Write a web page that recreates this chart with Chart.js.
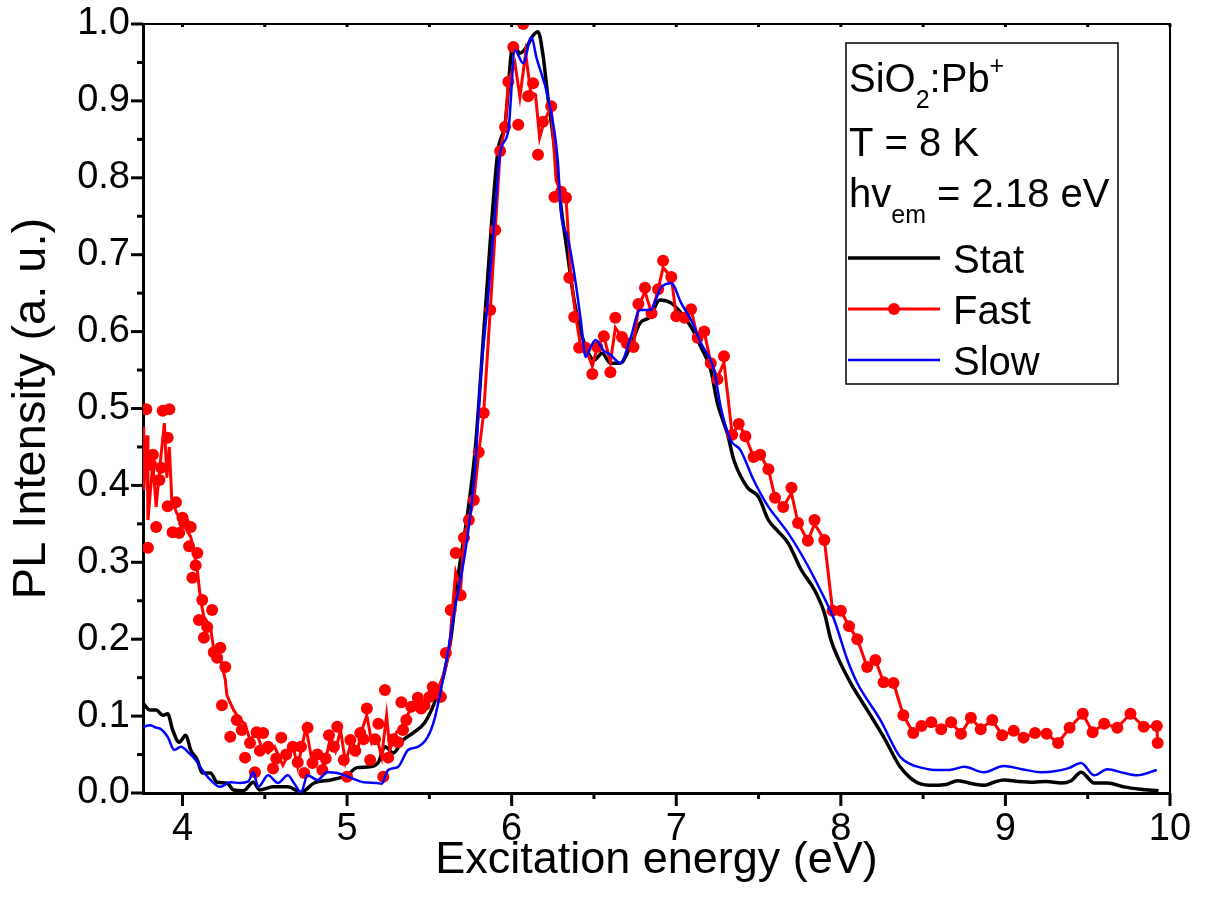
<!DOCTYPE html>
<html>
<head>
<meta charset="utf-8">
<script src="https://cdn.jsdelivr.net/npm/chart.js@4.4.1/dist/chart.umd.min.js"></script>
<style>
  html, body { margin: 0; padding: 0; background: #fff; }
</style>
</head>
<body>
<canvas id="myChart" width="1210" height="910"></canvas>
<script>
// [energy eV, intensity]
const statData = [
  [3.76,0.117],[3.80,0.108],[3.84,0.108],[3.88,0.101],[3.91,0.103],[3.94,0.082],[3.98,0.066],[4.02,0.075],
  [4.05,0.056],[4.09,0.043],[4.12,0.026],[4.17,0.026],[4.21,0.014],[4.27,0.013],[4.31,0.004],[4.37,0.003],
  [4.43,0.014],[4.47,0.004],[4.55,0.008],[4.64,0.008],[4.72,0.001],[4.80,0.013],[4.90,0.017],[5.00,0.023],
  [5.06,0.033],[5.14,0.034],[5.19,0.040],[5.23,0.060],[5.28,0.052],[5.34,0.069],[5.40,0.078],[5.47,0.091],
  [5.53,0.117],[5.59,0.156],[5.63,0.200],[5.68,0.290],[5.73,0.360],[5.78,0.450],[5.84,0.628],[5.915,0.832],
  [5.96,0.870],[6.01,0.975],[6.05,0.962],[6.09,0.970],[6.13,0.985],[6.16,0.990],[6.19,0.960],[6.22,0.905],
  [6.26,0.840],[6.30,0.762],[6.34,0.700],[6.38,0.640],[6.42,0.600],[6.46,0.575],[6.50,0.563],[6.55,0.572],
  [6.60,0.559],[6.66,0.559],[6.72,0.580],[6.78,0.611],[6.84,0.619],[6.90,0.641],[6.97,0.637],[7.03,0.624],
  [7.09,0.606],[7.15,0.580],[7.21,0.550],[7.25,0.507],[7.31,0.468],[7.35,0.433],[7.43,0.398],[7.50,0.385],
  [7.56,0.355],[7.62,0.340],[7.68,0.325],[7.76,0.290],[7.84,0.264],[7.90,0.234],[7.94,0.199],[7.98,0.177],
  [8.06,0.143],[8.16,0.108],[8.26,0.073],[8.36,0.034],[8.42,0.020],[8.47,0.013],[8.57,0.010],[8.64,0.011],
  [8.71,0.016],[8.80,0.012],[8.87,0.010],[8.93,0.014],[8.99,0.017],[9.08,0.015],[9.17,0.014],[9.25,0.015],
  [9.34,0.013],[9.40,0.016],[9.46,0.027],[9.54,0.013],[9.62,0.013],[9.72,0.008],[9.82,0.005],[9.93,0.003]
];
const slowData = [
  [3.76,0.086],[3.80,0.088],[3.84,0.085],[3.87,0.083],[3.91,0.073],[3.95,0.056],[3.99,0.060],[4.04,0.052],
  [4.08,0.043],[4.12,0.030],[4.17,0.017],[4.23,0.008],[4.29,0.014],[4.35,0.013],[4.40,0.015],[4.43,0.027],
  [4.46,0.008],[4.52,0.023],[4.58,0.013],[4.64,0.023],[4.68,0.012],[4.72,0.001],[4.76,0.023],[4.82,0.017],
  [4.88,0.027],[4.94,0.026],[5.02,0.020],[5.10,0.014],[5.18,0.013],[5.21,0.012],[5.25,0.030],[5.31,0.034],
  [5.37,0.056],[5.43,0.060],[5.49,0.073],[5.53,0.095],[5.57,0.134],[5.61,0.180],[5.65,0.234],[5.71,0.303],
  [5.75,0.364],[5.78,0.429],[5.81,0.537],[5.85,0.628],[5.89,0.730],[5.93,0.832],[5.98,0.862],[6.02,0.966],
  [6.07,0.949],[6.12,0.983],[6.15,0.957],[6.22,0.905],[6.28,0.823],[6.30,0.754],[6.34,0.723],[6.38,0.676],
  [6.42,0.615],[6.45,0.567],[6.48,0.580],[6.51,0.589],[6.56,0.575],[6.60,0.570],[6.66,0.559],[6.72,0.590],
  [6.78,0.628],[6.84,0.628],[6.91,0.658],[6.97,0.663],[7.03,0.637],[7.09,0.615],[7.15,0.585],[7.23,0.550],
  [7.27,0.502],[7.33,0.459],[7.39,0.446],[7.47,0.407],[7.56,0.372],[7.62,0.355],[7.68,0.338],[7.78,0.303],
  [7.88,0.262],[7.96,0.225],[8.04,0.173],[8.10,0.143],[8.24,0.095],[8.36,0.047],[8.42,0.038],[8.47,0.034],
  [8.57,0.030],[8.66,0.030],[8.75,0.034],[8.87,0.027],[8.99,0.035],[9.10,0.031],[9.22,0.027],[9.38,0.032],
  [9.46,0.039],[9.54,0.023],[9.62,0.031],[9.72,0.026],[9.80,0.023],[9.92,0.030]
];
// smoothed fast curve
const fastLine = [
  [3.76,0.476],[3.765,0.394],[3.785,0.465],[3.79,0.355],[3.82,0.430],[3.84,0.372],[3.865,0.430],[3.89,0.481],
  [3.905,0.410],[3.92,0.450],[3.935,0.381],[3.965,0.364],[4.00,0.351],[4.05,0.333],[4.07,0.312],[4.09,0.290],
  [4.11,0.251],[4.13,0.229],[4.17,0.216],[4.19,0.186],[4.23,0.177],[4.26,0.147],[4.27,0.127],[4.31,0.108],
  [4.35,0.095],[4.38,0.090],[4.41,0.069],[4.45,0.079],[4.48,0.060],[4.52,0.052],[4.56,0.060],[4.61,0.036],
  [4.64,0.049],[4.67,0.062],[4.70,0.034],[4.75,0.085],[4.79,0.039],[4.84,0.049],[4.86,0.034],[4.90,0.073],
  [4.93,0.055],[4.96,0.082],[4.99,0.040],[5.03,0.069],[5.06,0.052],[5.09,0.082],[5.12,0.101],[5.15,0.065],
  [5.18,0.073],[5.21,0.047],[5.24,0.101],[5.26,0.056],[5.30,0.079],[5.33,0.085],[5.36,0.099],[5.39,0.110],
  [5.43,0.118],[5.47,0.114],[5.51,0.138],[5.55,0.134],[5.59,0.156],[5.62,0.182],[5.64,0.238],[5.66,0.287],
  [5.69,0.265],[5.71,0.332],[5.74,0.355],[5.77,0.381],[5.80,0.443],[5.83,0.494],[5.87,0.628],[5.90,0.732],
  [5.93,0.835],[5.96,0.866],[5.98,0.925],[6.02,0.949],[6.05,0.905],[6.085,0.962],[6.115,0.912],[6.145,0.908],
  [6.17,0.852],[6.20,0.875],[6.24,0.892],[6.27,0.797],[6.30,0.780],[6.33,0.775],[6.36,0.671],[6.39,0.619],
  [6.42,0.580],[6.45,0.578],[6.49,0.555],[6.52,0.580],[6.56,0.594],[6.60,0.560],[6.63,0.605],[6.67,0.593],
  [6.70,0.585],[6.74,0.580],[6.77,0.632],[6.81,0.652],[6.85,0.624],[6.89,0.655],[6.92,0.683],[6.97,0.671],
  [7.00,0.620],[7.05,0.618],[7.09,0.629],[7.13,0.592],[7.17,0.600],[7.21,0.559],[7.25,0.540],[7.29,0.560],
  [7.34,0.466],[7.38,0.480],[7.42,0.464],[7.47,0.437],[7.51,0.440],[7.56,0.421],[7.60,0.384],[7.65,0.372],
  [7.70,0.390],[7.74,0.351],[7.80,0.328],[7.84,0.350],[7.90,0.329],[7.95,0.237],[8.00,0.237],[8.05,0.217],
  [8.10,0.200],[8.16,0.164],[8.21,0.173],[8.26,0.144],[8.32,0.143],[8.38,0.101],[8.44,0.078],[8.49,0.087],
  [8.55,0.092],[8.61,0.083],[8.67,0.092],[8.73,0.077],[8.79,0.098],[8.85,0.083],[8.92,0.095],[8.98,0.075],
  [9.05,0.081],[9.11,0.072],[9.18,0.078],[9.25,0.077],[9.32,0.065],[9.39,0.085],[9.47,0.103],[9.53,0.079],
  [9.60,0.090],[9.68,0.085],[9.76,0.103],[9.84,0.086],[9.92,0.087],[9.925,0.065]
];
// raw fast points (markers)
const fastDots = [
  [3.78,0.499],[3.79,0.319],[3.81,0.427],[3.82,0.440],[3.84,0.346],[3.86,0.407],[3.87,0.423],[3.88,0.497],
  [3.91,0.462],[3.91,0.373],[3.92,0.499],[3.94,0.339],[3.96,0.378],[3.98,0.338],[4.00,0.358],[4.01,0.351],
  [4.04,0.321],[4.05,0.346],[4.06,0.280],[4.08,0.296],[4.09,0.312],[4.10,0.225],[4.12,0.251],[4.13,0.202],
  [4.15,0.216],[4.18,0.238],[4.19,0.183],[4.21,0.176],[4.23,0.189],[4.24,0.114],[4.26,0.164],[4.29,0.073],
  [4.33,0.095],[4.36,0.082],[4.38,0.046],[4.41,0.065],[4.44,0.027],[4.45,0.079],[4.47,0.055],[4.49,0.078],
  [4.52,0.060],[4.55,0.032],[4.57,0.045],[4.60,0.072],[4.63,0.050],[4.67,0.060],[4.70,0.040],[4.72,0.060],
  [4.74,0.026],[4.76,0.085],[4.79,0.039],[4.82,0.050],[4.85,0.030],[4.87,0.045],[4.89,0.075],[4.92,0.060],
  [4.94,0.086],[4.98,0.043],[5.00,0.021],[5.02,0.069],[5.05,0.055],[5.08,0.078],[5.10,0.070],[5.12,0.110],
  [5.14,0.043],[5.17,0.070],[5.19,0.090],[5.22,0.021],[5.23,0.134],[5.25,0.046],[5.28,0.070],[5.31,0.066],
  [5.33,0.118],[5.34,0.082],[5.36,0.095],[5.39,0.112],[5.43,0.124],[5.45,0.110],[5.47,0.114],[5.50,0.125],
  [5.52,0.138],[5.55,0.130],[5.57,0.125],[5.60,0.182],[5.63,0.238],[5.66,0.312],[5.69,0.257],[5.71,0.332],
  [5.74,0.355],[5.77,0.381],[5.80,0.443],[5.83,0.494],[5.87,0.628],[5.90,0.732],[5.93,0.835],[5.96,0.866],
  [5.98,0.925],[6.01,0.970],[6.04,0.869],[6.07,1.000],[6.10,0.906],[6.13,0.923],[6.16,0.830],[6.19,0.873],
  [6.24,0.893],[6.26,0.775],[6.30,0.782],[6.33,0.774],[6.35,0.670],[6.38,0.619],[6.41,0.579],[6.45,0.579],
  [6.49,0.545],[6.52,0.580],[6.56,0.594],[6.60,0.547],[6.63,0.618],[6.67,0.593],[6.70,0.585],[6.74,0.580],
  [6.77,0.636],[6.81,0.657],[6.85,0.624],[6.89,0.655],[6.92,0.692],[6.97,0.671],[7.00,0.620],[7.05,0.618],
  [7.09,0.629],[7.13,0.592],[7.17,0.600],[7.21,0.559],[7.25,0.538],[7.29,0.568],[7.34,0.466],[7.38,0.480],
  [7.42,0.464],[7.47,0.437],[7.51,0.440],[7.56,0.421],[7.60,0.384],[7.65,0.372],[7.70,0.397],[7.74,0.351],
  [7.80,0.328],[7.84,0.355],[7.90,0.329],[7.95,0.237],[8.00,0.237],[8.05,0.217],[8.10,0.200],[8.16,0.164],
  [8.21,0.173],[8.26,0.144],[8.32,0.143],[8.38,0.101],[8.44,0.078],[8.49,0.087],[8.55,0.092],[8.61,0.083],
  [8.67,0.092],[8.73,0.077],[8.79,0.098],[8.85,0.083],[8.92,0.095],[8.98,0.075],[9.05,0.081],[9.11,0.072],
  [9.18,0.078],[9.25,0.077],[9.32,0.065],[9.39,0.085],[9.47,0.103],[9.53,0.079],[9.60,0.090],[9.68,0.085],
  [9.76,0.103],[9.84,0.086],[9.92,0.087],[9.925,0.065]
];
const xTicks = [4, 5, 6, 7, 8, 9, 10];
const yTicks = [0, 0.1, 0.2, 0.3, 0.4, 0.5, 0.6, 0.7, 0.8, 0.9, 1.0];
const seriesNames = ["Stat", "Fast", "Slow"];

const FONT = "'Liberation Sans', Arial, sans-serif";
const toXY = (arr) => arr.map((p) => ({ x: p[0], y: p[1] }));

// frame, tick marks and the text/legend box
const decorations = {
  id: "decorations",
  afterDraw(chart) {
    const { ctx, chartArea: a, scales: { x, y } } = chart;
    ctx.save();
    ctx.strokeStyle = "#000";
    ctx.lineWidth = 2;
    ctx.beginPath();
    ctx.moveTo(a.left, a.top);
    ctx.lineTo(a.right, a.top);
    ctx.lineTo(a.right, a.bottom);
    ctx.stroke();

    ctx.lineWidth = 3;
    for (let i = 8; i <= 20; i++) {
      const v = i / 2;
      const px = x.getPixelForValue(v);
      const len = i % 2 === 0 ? 13 : 6;
      ctx.beginPath();
      ctx.moveTo(px, a.bottom);
      ctx.lineTo(px, a.bottom + len);
      ctx.moveTo(px, a.top);
      ctx.lineTo(px, a.top + 3);
      ctx.stroke();
    }
    for (let i = 0; i <= 20; i++) {
      const py = y.getPixelForValue(i / 20);
      const len = i % 2 === 0 ? 12 : 6;
      ctx.beginPath();
      ctx.moveTo(a.left, py);
      ctx.lineTo(a.left - len, py);
      ctx.stroke();
    }

    // text box
    const bx = a.right - 324, by = a.top + 19, bw = 272, bh = 341;
    ctx.lineWidth = 1.5;
    ctx.strokeRect(bx, by, bw, bh);
    ctx.fillStyle = "#000";
    ctx.textBaseline = "alphabetic";
    ctx.textAlign = "left";
    const big = "40px " + FONT, small = "25px " + FONT;
    const runs = (parts, x0, base) => {
      let cx = x0;
      parts.forEach(([t, kind]) => {
        ctx.font = kind ? small : big;
        const dy = kind === "sub" ? 16 : kind === "sup" ? -18 : 0;
        ctx.fillText(t, cx, base + dy);
        cx += ctx.measureText(t).width;
      });
    };
    const tx = bx + 3;
    runs([["SiO"], ["2", "sub"], [":Pb"], ["+", "sup"]], tx, by + 49);
    runs([["T = 8 K"]], tx, by + 113);
    runs([["hv"], ["em", "sub"], [" = 2.18 eV"]], tx, by + 164);

    const colors = ["#000000", "#ff0000", "#0000ff"];
    const widths = [3.5, 3, 2.5];
    seriesNames.forEach((name, i) => {
      const ly = by + 215 + i * 51;
      ctx.strokeStyle = colors[i];
      ctx.lineWidth = widths[i];
      ctx.beginPath();
      ctx.moveTo(bx + 2, ly);
      ctx.lineTo(bx + 94, ly);
      ctx.stroke();
      if (name === "Fast") {
        ctx.fillStyle = colors[i];
        ctx.beginPath();
        ctx.arc(bx + 48, ly, 6, 0, Math.PI * 2);
        ctx.fill();
      }
      ctx.fillStyle = "#000";
      ctx.font = big;
      ctx.fillText(name, bx + 107, ly + 15);
    });
    ctx.restore();
  },
};

const config = {
  type: "scatter",
  data: {
    datasets: [
      { label: "Slow", data: toXY(slowData), showLine: true, borderColor: "#0000ff", borderWidth: 2.5, pointRadius: 0, cubicInterpolationMode: "monotone", order: 1 },
      { label: "Fast", data: toXY(fastLine), showLine: true, borderColor: "#ff0000", borderWidth: 3, pointRadius: 0, order: 2 },
      { label: "Fast points", data: toXY(fastDots), showLine: false, backgroundColor: "#ff0000", borderWidth: 0, pointRadius: 6, order: 3 },
      { label: "Stat", data: toXY(statData), showLine: true, borderColor: "#000000", borderWidth: 3.5, pointRadius: 0, cubicInterpolationMode: "monotone", order: 4 },
    ],
  },
  options: {
    responsive: false,
    animation: false,
    events: [],
    layout: { padding: { top: 24, right: 40, left: 0, bottom: 0 } },
    scales: {
      x: {
        type: "linear",
        min: 3.76,
        max: 10,
        afterBuildTicks: (s) => { s.ticks = xTicks.map((v) => ({ value: v })); },
        afterFit: (s) => { s.height = 117; s.paddingLeft = 0; s.paddingRight = 0; },
        grid: { display: false, drawTicks: false },
        border: { display: true, color: "#000", width: 3 },
        ticks: { color: "#000", font: { family: FONT, size: 38 }, padding: 14, maxRotation: 0 },
        title: { display: true, text: "Excitation energy (eV)", color: "#000", font: { family: FONT, size: 45 }, padding: { top: 22, bottom: 22 } },
      },
      y: {
        min: 0,
        max: 1,
        afterBuildTicks: (s) => { s.ticks = yTicks.map((v) => ({ value: v })); },
        afterFit: (s) => { s.width = 143; s.paddingTop = 0; s.paddingBottom = 0; },
        grid: { display: false, drawTicks: false },
        border: { display: true, color: "#000", width: 3 },
        ticks: { color: "#000", font: { family: FONT, size: 38 }, padding: 13, callback: (v) => v.toFixed(1) },
        title: { display: true, text: "PL Intensity (a. u.)", color: "#000", font: { family: FONT, size: 47 }, padding: { top: 4, bottom: 4 } },
      },
    },
    plugins: {
      legend: { display: false },
      tooltip: { enabled: false },
    },
  },
  plugins: [decorations],
};

new Chart(document.getElementById("myChart"), config);
</script>
</body>
</html>
